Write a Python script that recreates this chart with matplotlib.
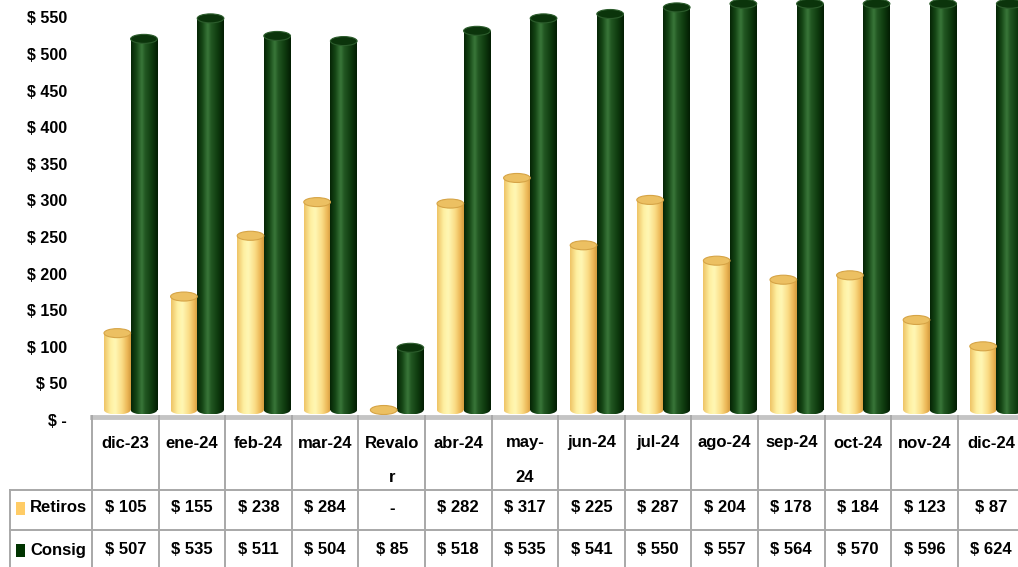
import numpy as np
import matplotlib
matplotlib.use("Agg")
import matplotlib.pyplot as plt
import matplotlib.transforms as mtransforms
from matplotlib import font_manager
from matplotlib.colors import LinearSegmentedColormap
from matplotlib.patches import Ellipse, Rectangle

# data
categories = ['dic-23', 'ene-24', 'feb-24', 'mar-24', 'Revalor', 'abr-24', 'may-24',
              'jun-24', 'jul-24', 'ago-24', 'sep-24', 'oct-24', 'nov-24', 'dic-24']
header_labels = ['dic-23', 'ene-24', 'feb-24', 'mar-24', 'Revalo\nr', 'abr-24', 'may-\n24',
                 'jun-24', 'jul-24', 'ago-24', 'sep-24', 'oct-24', 'nov-24', 'dic-24']
retiros = [105, 155, 238, 284, 0, 282, 317, 225, 287, 204, 178, 184, 123, 87]
consig = [507, 535, 511, 504, 85, 518, 535, 541, 550, 557, 564, 570, 596, 624]
y_ticks = [0, 50, 100, 150, 200, 250, 300, 350, 400, 450, 500, 550]
y_max = 555   # the chart's value axis stops here, taller bars get cut flat

# font: narrow if we have it
names = {f.name for f in font_manager.fontManager.ttflist}
fam = 'DejaVu Sans'
for f in ['Liberation Sans Narrow', 'Liberation Sans']:
    if f in names:
        fam = f
        break
plt.rcParams['font.family'] = fam

W, H = 1018, 567
PX = 0.732          # pixels per unit
COL = 66.6          # pixels per category column
L = 92              # left edge of the plot / table columns

fig = plt.figure(figsize=(W / 100, H / 100), dpi=100)

# main chart area, zero of bars at y=410px, bottom edge at 416px
ax = fig.add_axes([L / W, (H - 416) / H, COL * 14 / W, 416 / H])
ax.set_facecolor('none')
for s in ax.spines.values():
    s.set_visible(False)
ax.set_xticks([])
ax.set_yticks(y_ticks)
ax.set_yticklabels(['$ -' if v == 0 else f'$ {v}' for v in y_ticks],
                   fontsize=11.5, fontweight='bold')
ax.tick_params(axis='y', length=0, pad=18)
off = mtransforms.ScaledTranslation(0, -0.10, fig.dpi_scale_trans)
for lab in ax.get_yticklabels():
    lab.set_transform(lab.get_transform() + off)

yellow_cm = LinearSegmentedColormap.from_list('y', [
    (0.0, '#eec466'), (0.25, '#fff0a2'), (0.42, '#fff7b4'),
    (0.68, '#fadb84'), (0.88, '#ebb554'), (1.0, '#d39c40')])
green_cm = LinearSegmentedColormap.from_list('g', [
    (0.0, '#052505'), (0.2, '#164716'), (0.4, '#3a783a'),
    (0.52, '#235823'), (0.8, '#0d380d'), (1.0, '#031d03')])

x = np.arange(len(categories))
bw = 0.40
eh = 9 / PX


def cylinders(xs, vals, cmap, top_face, top_edge):
    grad = cmap(np.linspace(0, 1, 80))[None, :, :]
    vals = np.minimum(vals, y_max)
    bars = ax.bar(xs, vals, width=bw, align='edge', color='none', linewidth=0, zorder=2)
    for rect, v in zip(bars, vals):
        x0 = rect.get_x()
        im = ax.imshow(grad, extent=(x0, x0 + bw, 0, v if v > 0 else 0.01),
                       aspect='auto', interpolation='bicubic', zorder=2)
        im.set_clip_path(rect)
        bot = Ellipse((x0 + bw / 2, 0), bw, eh, facecolor='none', edgecolor='none')
        ax.add_patch(bot)
        im2 = ax.imshow(grad, extent=(x0, x0 + bw, -eh / 2, eh / 2),
                        aspect='auto', interpolation='bicubic', zorder=2)
        im2.set_clip_path(bot)
        ax.add_patch(Ellipse((x0 + bw / 2, v), bw, eh, facecolor=top_face,
                             edgecolor=top_edge, linewidth=0.8, zorder=3))


cylinders(x + 0.18, retiros, yellow_cm, '#ecc062', '#d6a446')
cylinders(x + 0.58, consig, green_cm, '#0b340b', '#2c5c2c')
ax.set_xlim(0, len(categories))
ax.set_ylim(-6 / PX, 410 / PX)

# data table under the chart (y in pixels from 416 down)
tax = fig.add_axes([L / W, 0, COL * 14 / W, (H - 416) / H])
tax.set_xlim(0, len(categories))
tax.set_ylim(H - 416, 0)
tax.axis('off')

left = (10 - L) / COL
grid = '#a8a8a8'
n = len(categories)
tax.plot([0, n], [1, 1], color='#c4c4c4', lw=3.5, clip_on=False, zorder=1)
for i in range(n + 1):
    tax.plot([i, i], [0, 170], color=grid, lw=1.4, clip_on=False)
for yy in (74, 114):
    tax.plot([left, n], [yy, yy], color=grid, lw=1.4, clip_on=False)
tax.plot([left, left], [74, 170], color=grid, lw=1.4, clip_on=False)

fs = 12
for i, lab in enumerate(header_labels):
    for k, part in enumerate(lab.split('\n')):
        tax.text(i + 0.5, 27 + 34 * k, part, ha='center', va='center',
                 fontsize=fs, fontweight='bold', clip_on=False)
for i, (r, c) in enumerate(zip(retiros, consig)):
    tax.text(i + 0.5, 92, '-' if r == 0 else f'$ {r}', ha='center', va='center',
             fontsize=fs, fontweight='bold', clip_on=False)
    tax.text(i + 0.5, 134, '-' if c == 0 else f'$ {c}', ha='center', va='center',
             fontsize=fs, fontweight='bold', clip_on=False)

sq_x = (16 - L) / COL
sq_w = 9 / COL
for yy, name, col in ((92, 'Retiros', '#ffcc66'), (134, 'Consig', '#003300')):
    tax.add_patch(Rectangle((sq_x, yy - 6), sq_w, 13, facecolor=col,
                            edgecolor='none', clip_on=False))
    tax.text((30 - L) / COL, yy, name, ha='left', va='center',
             fontsize=fs, fontweight='bold', clip_on=False)

fig.savefig('out.png', dpi=100, facecolor='white')
